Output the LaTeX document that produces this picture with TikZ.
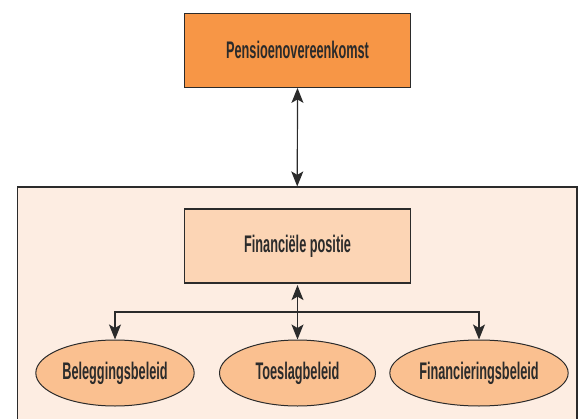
\documentclass[tikz,border=0pt]{standalone}
\usepackage{fontspec}
\setmainfont{Liberation Sans}[FakeStretch=0.53]
\usetikzlibrary{arrows.meta, shapes.geometric}
\definecolor{pensorange}{HTML}{F79646}
\definecolor{finpeach}{HTML}{FCD5B5}
\definecolor{beleidfill}{HTML}{FAC090}
\definecolor{framefill}{HTML}{FDEDE2}
\definecolor{inkgray}{HTML}{2B2B2B}
\begin{document}
\begin{tikzpicture}[
    x=1pt, y=1pt,
    font=\fontsize{24}{28}\selectfont\bfseries,
    text=inkgray,
    box/.style={draw=inkgray, line width=1.2pt, align=center, minimum width=226pt, minimum height=74pt},
    pensnode/.style={box, fill=pensorange},
    finnode/.style={box, fill=finpeach},
    beleid/.style={ellipse, draw=inkgray, line width=1pt, fill=beleidfill, minimum width=156pt, minimum height=66pt},
    framenode/.style={draw=inkgray, line width=1.2pt, fill=framefill, minimum width=559.5pt, minimum height=251pt},
    tip/.style={-{Stealth[length=15pt, width=12pt, inset=3.5pt]}, line width=1.2pt, draw=inkgray},
    both/.style={{Stealth[length=15pt, width=12pt, inset=3.5pt]}-{Stealth[length=15pt, width=12pt, inset=3.5pt]}, line width=1.2pt, draw=inkgray}
]
\useasboundingbox (0,0) rectangle (580,418);
\node[framenode] (frame) at (297.25, 105.5) {};
\node[pensnode] (pens) at (297.5, 367.7) {Pensioenovereenkomst};
\node[finnode] (fin) at (297.5, 172) {Financiële positie};
\node[beleid] (bel) at (115, 45) {Beleggingsbeleid};
\node[beleid] (toe) at (297.5, 45) {Toeslagbeleid};
\node[beleid] (fnc) at (479, 45) {Financieringsbeleid};
\coordinate (split) at (297.5, 106);
\draw[both] (pens.south) -- (frame.north);
\draw[both] ([yshift=-1.5pt]fin.south) -- (toe.north);
\draw[tip] (split) -| (bel.north);
\draw[tip] (split) -| (fnc.north);
\end{tikzpicture}
\end{document}
